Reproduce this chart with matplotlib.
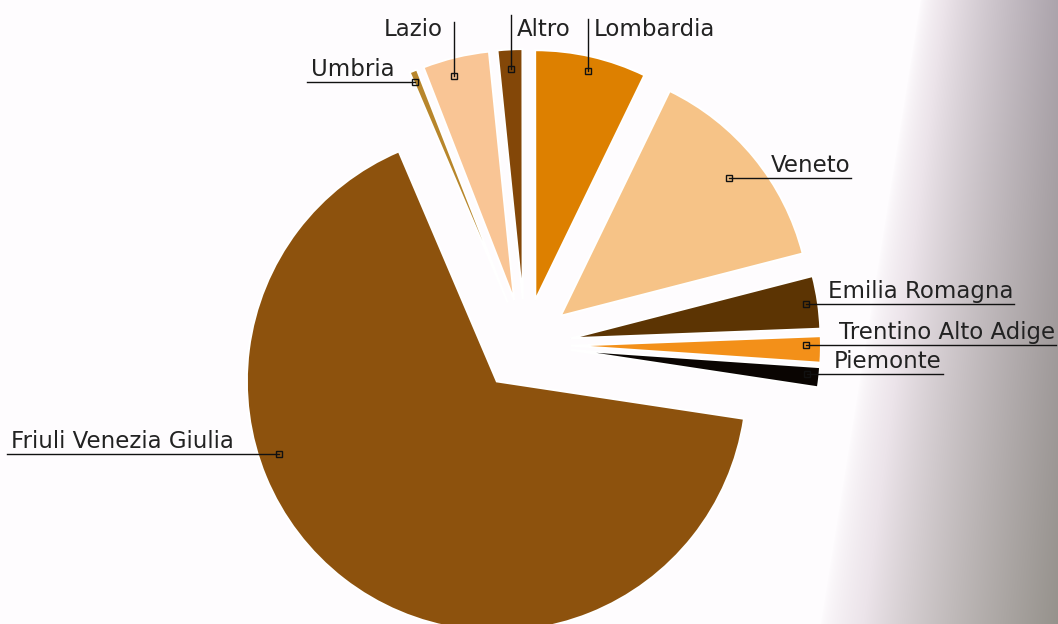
import matplotlib.pyplot as plt
import numpy as np

# wine production share by region (%), counter-clockwise from Piemonte
regions = ["Piemonte", "Trentino Alto Adige", "Emilia Romagna", "Veneto", "Lombardia",
           "Altro", "Lazio", "Umbria", "Friuli Venezia Giulia"]
shares = [1.3, 1.7, 3.4, 13.8, 7.2, 1.6, 4.3, 0.5, 66.2]
colors = ["#0a0502", "#f39019", "#5c3403", "#f6c387", "#dd8000",
          "#834708", "#f9c595", "#b8862b", "#8d520d"]

# where the little square sits inside each wedge: (fraction of sweep, fraction of radius)
anchor_pos = [(0.6, 0.95), (0.65, 0.94), (0.5, 0.95), (0.5, 0.87), (0.5, 0.94),
              (0.5, 0.92), (0.6, 0.93), (0.8, 0.955), (0.358, 0.92)]
# leader style: ("h", x where the line ends) or ("v", y of the line top, side of the text)
leaders = [("h", 943), ("h", 1056), ("h", 1014), ("h", 851), ("v", 19, "right"),
           ("v", 15, "right"), ("v", 22, "left"), ("h", 307), ("h", 7)]

W, H = 1058, 624
fig = plt.figure(figsize=(W / 100, H / 100), dpi=100)

# white page fading to grey on the right
bg = fig.add_axes([0, 0, 1, 1], zorder=0)
yy, xx = np.mgrid[0:H, 0:W]
x0 = 920 - 100 * yy / H
t = np.clip((xx - x0) / (W - x0), 0, 1) ** 0.7
edge = np.array([172, 164, 172])[None, None, :] * (1 - yy[..., None] / H) + \
       np.array([150, 146, 140])[None, None, :] * (yy[..., None] / H)
white = np.array([254, 252, 254])
mid = np.array([236, 228, 234])
t3 = t[..., None]
img = np.where(t3 < 0.3,
               white + (mid - white) * (t3 / 0.3),
               mid + (edge - mid) * ((t3 - 0.3) / 0.7))
bg.imshow(img.astype(np.uint8), extent=(0, W, 0, H), origin="upper",
          aspect="auto", interpolation="bilinear")
bg.set_xlim(0, W)
bg.set_ylim(0, H)
bg.axis("off")

# the pie, cut off by the right edge of its own axes
ax = fig.add_axes([0, 0, 820 / W, 1], zorder=1)
wedges, _ = ax.pie(shares, colors=colors, startangle=-8.6, counterclock=True,
                   explode=[46] * len(shares), center=(525, 279), radius=250,
                   wedgeprops=dict(edgecolor="white", linewidth=1.5))
for w in wedges:
    w.set_clip_on(True)
ax.set_xlim(0, 820)
ax.set_ylim(0, H)
ax.set_aspect("equal")
ax.axis("off")

# labels with leader lines
lab = fig.add_axes([0, 0, 1, 1], zorder=2)
lab.set_xlim(0, W)
lab.set_ylim(0, H)
lab.axis("off")
lab.patch.set_alpha(0)

for w, name, (tf, rf), ld in zip(wedges, regions, anchor_pos, leaders):
    a = np.radians(w.theta1 + tf * (w.theta2 - w.theta1))
    cx, cy = w.center
    px = cx + rf * w.r * np.cos(a)
    py = cy + rf * w.r * np.sin(a)
    if ld[0] == "h":
        end = ld[1]
        lab.plot([px, end], [py, py], color="#111111", lw=1.0)
        if end > px:
            lab.text(end - 1, py + 6, name, ha="right", va="baseline",
                     fontsize=16.5, color="#222222")
        else:
            lab.text(end + 4, py + 6, name, ha="left", va="baseline",
                     fontsize=16.5, color="#222222")
    else:
        top = H - ld[1]
        lab.plot([px, px], [py, top], color="#111111", lw=1.0)
        if ld[2] == "right":
            lab.text(px + 6, H - 36, name, ha="left", va="baseline",
                     fontsize=16.5, color="#222222")
        else:
            lab.text(px - 11, H - 36, name, ha="right", va="baseline",
                     fontsize=16.5, color="#222222")
    lab.plot(px, py, marker="s", ms=4, mfc="none", mec="#111111", mew=1.0)

fig.savefig("out.png", dpi=100)
